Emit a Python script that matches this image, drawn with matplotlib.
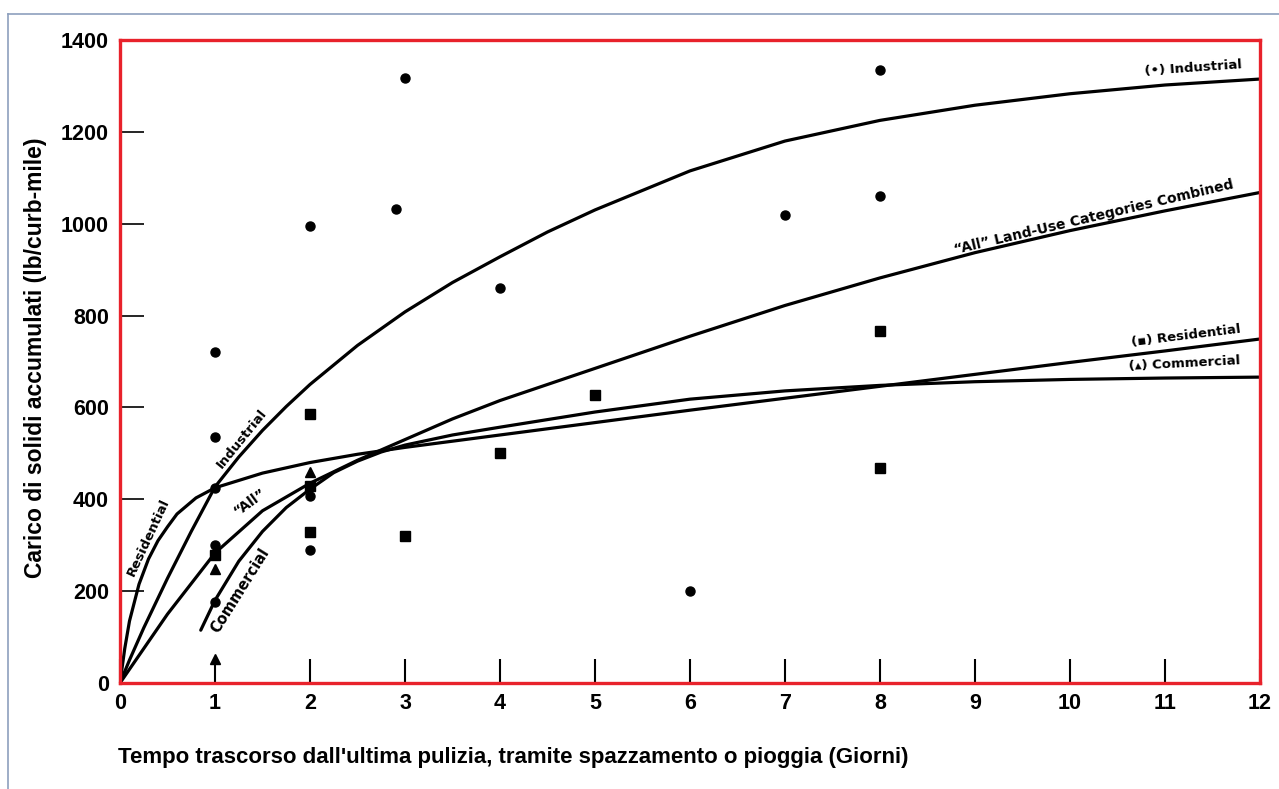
import matplotlib
matplotlib.use("Agg")
import matplotlib.pyplot as plt
from matplotlib.lines import Line2D

# ---------------- data ----------------
x_ticks = list(range(0, 13))
y_ticks = [0, 200, 400, 600, 800, 1000, 1200, 1400]

t_industrial = [0, 0.1, 0.25, 0.5, 0.75, 1, 1.25, 1.5, 1.75, 2, 2.5, 3, 3.5, 4, 4.5, 5, 6, 7, 8, 9, 10, 11, 12]
v_industrial = [0, 50, 120, 228, 330, 427, 492, 550, 602, 650, 735, 808, 872, 928, 982, 1030, 1115, 1180, 1225, 1258, 1283, 1302, 1315]

t_all = [0, 0.25, 0.5, 1, 1.5, 2, 2.5, 3, 3.5, 4, 5, 6, 7, 8, 9, 10, 11, 12]
v_all = [0, 75, 150, 283, 375, 435, 485, 530, 575, 615, 685, 755, 822, 882, 937, 985, 1028, 1068]

t_residential = [0, 0.05, 0.1, 0.2, 0.3, 0.4, 0.5, 0.6, 0.8, 1, 1.5, 2, 2.5, 3, 4, 5, 6, 7, 8, 9, 10, 11, 12]
v_residential = [0, 75, 135, 215, 270, 310, 340, 368, 403, 425, 457, 480, 498, 513, 540, 567, 594, 620, 646, 672, 698, 723, 749]

t_commercial = [0.85, 1, 1.25, 1.5, 1.75, 2, 2.25, 2.5, 2.75, 3, 3.5, 4, 5, 6, 7, 8, 9, 10, 11, 12]
v_commercial = [115, 180, 265, 330, 382, 422, 458, 483, 503, 518, 540, 557, 590, 618, 636, 648, 656, 661, 664, 666]

# observed points
ind_x = [1, 1, 1, 1, 1, 2, 2, 2, 2.9, 3, 4, 6, 7, 8, 8]
ind_y = [720, 536, 425, 300, 176, 995, 407, 290, 1032, 1317, 860, 200, 1019, 1335, 1060]

res_x = [1, 2, 2, 2, 3, 4, 5, 8, 8]
res_y = [279, 586, 429, 329, 320, 501, 627, 766, 468]

com_x = [1, 1, 2]
com_y = [248, 52, 459]

xlabel = "Tempo trascorso dall'ultima pulizia, tramite spazzamento o pioggia (Giorni)"
ylabel = "Carico di solidi accumulati (lb/curb-mile)"

# ---------------- figure ----------------
W, H = 1279, 789
fig = plt.figure(figsize=(W / 100, H / 100), dpi=100)
fig.patch.set_facecolor("white")

# outer thin frame of the picture
frame_col = "#8da0bd"
fig.add_artist(Line2D([8 / W, 8 / W], [0, 1 - 14 / H], transform=fig.transFigure, color=frame_col, lw=1.2))
fig.add_artist(Line2D([8 / W, 1], [1 - 14 / H, 1 - 14 / H], transform=fig.transFigure, color=frame_col, lw=1.2))

ax = fig.add_axes([120 / W, (H - 683) / H, (1260 - 120) / W, (683 - 40) / H])
ax.set_xlim(0, 12)
ax.set_ylim(0, 1400)

lw = 2.3
for t, v in [(t_industrial, v_industrial), (t_all, v_all),
             (t_residential, v_residential), (t_commercial, v_commercial)]:
    ax.plot(t, v, color="black", lw=lw, solid_capstyle="round", solid_joinstyle="round")

ax.plot(ind_x, ind_y, "o", color="black", ms=6.5, ls="none")
ax.plot(res_x, res_y, "s", color="black", ms=6.5, ls="none")
ax.plot(com_x, com_y, "^", color="black", ms=7, ls="none")

# curve labels
lab = dict(color="black", fontweight="bold", family="DejaVu Sans", ha="center", va="center",
           rotation_mode="anchor")
ax.text(1.28, 531, "Industrial", rotation=51, fontsize=9.5, **lab)
ax.text(0.30, 318, "Residential", rotation=65, fontsize=9.5, **lab)
ax.text(1.37, 394, "\u201cAll\u201d", rotation=36, fontsize=10, **lab)
ax.text(1.26, 202, "Commercial", rotation=58, fontsize=10.5, **lab)
ax.text(10.25, 1014, "\u201cAll\u201d Land-Use Categories Combined", rotation=13.3, fontsize=10, **lab)
ax.text(11.30, 1339, "(\u2022) Industrial", rotation=4, fontsize=9.5, **lab)
ax.text(11.22, 755, "(\u25aa) Residential", rotation=7, fontsize=9.5, **lab)
ax.text(11.21, 695, "(\u25b4) Commercial", rotation=3, fontsize=9.5, **lab)

# spines
for s in ax.spines.values():
    s.set_color("#e8222b")
    s.set_linewidth(2.4)
    s.set_zorder(5)

ax.set_xticks(x_ticks)
ax.set_yticks(y_ticks)
ax.set_xticklabels([str(v) for v in x_ticks])
ax.set_yticklabels([str(v) for v in y_ticks])
ax.tick_params(axis="x", direction="in", length=17, width=1.5, color="black", pad=7,
               labelsize=15.5)
ax.tick_params(axis="y", direction="in", length=17, width=1.2, color="black", pad=8,
               labelsize=15.5)
for lbl in ax.get_xticklabels() + ax.get_yticklabels():
    lbl.set_family("Liberation Sans")
    lbl.set_fontweight("bold")

fig.text(118 / W, 1 - 757 / H, xlabel, family="Liberation Sans", fontweight="bold",
         fontsize=16, ha="left", va="center")
fig.text(36 / W, 1 - 358 / H, ylabel, family="Liberation Sans", fontweight="bold",
         fontsize=16.5, ha="center", va="center", rotation=90)

fig.savefig("out.png", dpi=100, facecolor="white")
